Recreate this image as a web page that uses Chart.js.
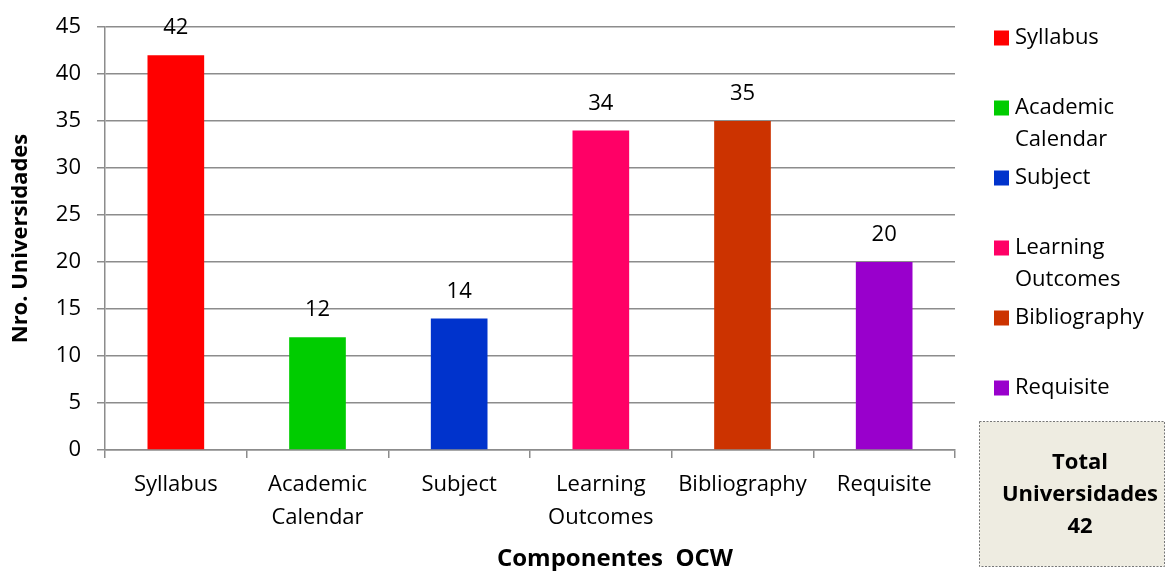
<!DOCTYPE html>
<html><head><meta charset="utf-8">
<script src="https://cdn.jsdelivr.net/npm/chart.js@4/dist/chart.umd.min.js"></script>
<style>html,body{margin:0;padding:0;background:#fff;}#wrap{width:1167px;height:571px;position:relative;}</style>
</head><body><div id="wrap"><canvas id="c" width="1167" height="571"></canvas></div>
<script>
const categories = [["Syllabus"],["Academic","Calendar"],["Subject"],["Learning","Outcomes"],["Bibliography"],["Requisite"]];
const values = [42, 12, 14, 34, 35, 20];
const colors = ["#FF0000","#00CC00","#0033CC","#FF0066","#CC3300","#9900CC"];
const yTicks = [0,5,10,15,20,25,30,35,40,45];
const totalLines = ["Total","Universidades","42"];
const FONT = "'Open Sans', sans-serif";

const overlay = {
  id:'overlay',
  afterDatasetsDraw(chart){
    const ctx = chart.ctx;
    const meta = chart.getDatasetMeta(0);
    ctx.save();
    ctx.fillStyle = '#000';
    ctx.font = "22px " + FONT;
    ctx.textAlign = 'center';
    ctx.textBaseline = 'middle';
    meta.data.forEach((bar,i)=>{
      ctx.fillText(String(values[i]), bar.x, bar.y - 27);
    });
    ctx.restore();
  },
  afterDraw(chart){
    const ctx = chart.ctx;
    ctx.save();
    ctx.font = "bold 24px " + FONT;
    ctx.fillStyle = '#000';
    ctx.textAlign = 'center';
    ctx.textBaseline = 'middle';
    ctx.fillText("Componentes  OCW", 615, 559);
    ctx.font = "22px " + FONT;
    ctx.textAlign = 'left';
    categories.forEach((lab,i)=>{
      const y = 38 + 70*i;
      ctx.fillStyle = colors[i];
      ctx.fillRect(994, y-7.5, 15, 15);
      ctx.fillStyle = '#000';
      lab.forEach((t,j)=>ctx.fillText(t, 1015, y + 32*j));
    });
    ctx.fillStyle = '#EEECE1';
    ctx.fillRect(979.5, 421.5, 185, 145);
    ctx.setLineDash([2,1.5]);
    ctx.strokeStyle = '#777';
    ctx.lineWidth = 1;
    ctx.strokeRect(979.5, 421.5, 185, 145);
    ctx.setLineDash([]);
    ctx.fillStyle = '#000';
    ctx.font = "bold 22px " + FONT;
    ctx.textAlign = 'center';
    totalLines.forEach((t,j)=>ctx.fillText(t, 1080, 463 + 32*j));
    ctx.restore();
  }
};

new Chart(document.getElementById('c'), {
  type:'bar',
  data:{ labels: categories, datasets:[{ data: values, backgroundColor: colors, borderWidth:0, categoryPercentage:1, barPercentage:0.4 }]},
  options:{
    responsive:false, animation:false,
    devicePixelRatio:1,
    layout:{ padding:{ left:0, right:212, top:27, bottom:0 } },
    plugins:{ legend:{display:false}, tooltip:{enabled:false} },
    scales:{
      y:{
        min:0, max:45,
        afterBuildTicks(s){ s.ticks = yTicks.map(v=>({value:v})); },
        afterFit(s){ s.width = 105; s.paddingTop = 0; s.paddingBottom = 0; },
        ticks:{ font:{size:22, family:FONT, lineHeight:1}, color:'#000', padding:16 },
        grid:{ color:'#8c8c8c', lineWidth:1.5, tickLength:8 },
        border:{ color:'#8c8c8c', width:1.5 },
        title:{ display:true, text:'Nro. Universidades', font:{size:22, weight:'bold', family:FONT}, color:'#000', padding:{top:8,bottom:0} }
      },
      x:{
        afterFit(s){ s.height = 121; },
        ticks:{ font:{size:22, family:FONT, lineHeight:1.5}, color:'#000', padding:10, maxRotation:0, autoSkip:false },
        grid:{ offset:true, drawOnChartArea:false, color:'#8c8c8c', lineWidth:1.5, tickLength:8 },
        border:{ color:'#8c8c8c', width:1.5 }
      }
    }
  },
  plugins:[overlay]
});
</script></body></html>
